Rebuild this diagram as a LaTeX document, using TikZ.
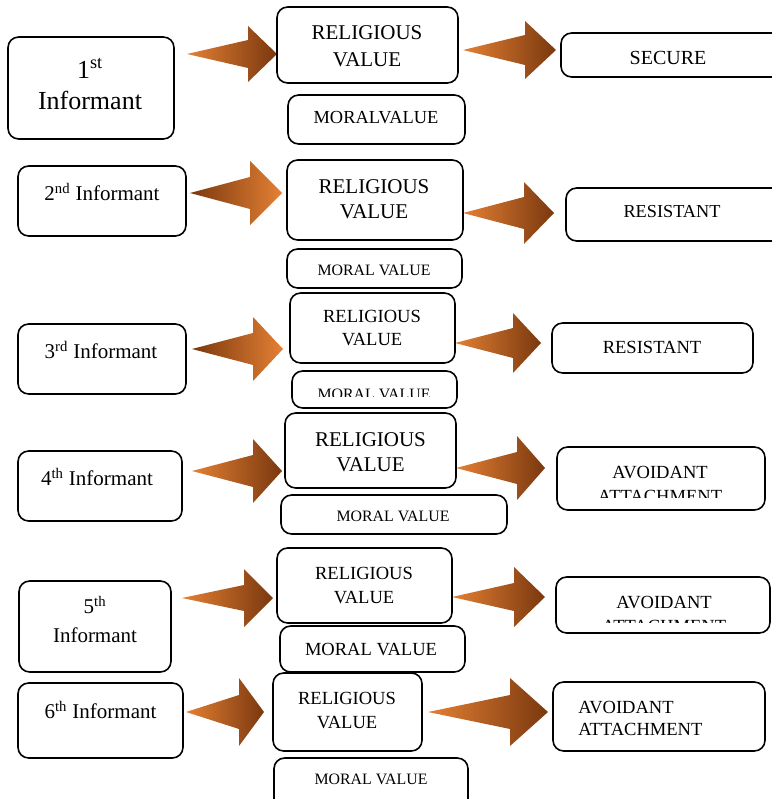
\documentclass[tikz,border=0pt]{standalone}
\usepackage{fontspec}
\setmainfont{Liberation Serif}
\definecolor{aorange}{RGB}{228,128,52}
\definecolor{abrown}{RGB}{122,56,14}
\tikzset{
  box/.style={draw=black, line width=1.2pt, rounded corners=8pt, inner sep=0pt, fill=white},
  txt/.style={inner sep=0pt, align=center, text=black},
}
\newcommand\rbox[5]{\node[box, minimum width={(#4-#2)*0.75pt}, minimum height={(#5-#3)*0.75pt}] (#1) at ({(#2+#4)/2},{(#3+#5)/2}) {};}
\newcommand\barrow[8]{\shade[left color=#7, right color=#8] (#1,#2) -- (#3,{#2-#5}) -- (#3,{#2-#6}) -- (#4,#2) -- (#3,{#2+#6}) -- (#3,{#2+#5}) -- cycle;}
\newcommand\fs[2]{\fontsize{#1pt}{#2pt}\selectfont}
\begin{document}
\begin{tikzpicture}[x=0.75pt, y=-0.75pt]
\useasboundingbox (0,0) rectangle (771,799);
% arrows
\barrow{187}{54}{248}{277}{14}{28}{aorange}{abrown}
\barrow{463}{50}{525}{556}{15}{29}{aorange}{abrown}
\barrow{190}{193}{250}{282}{16}{32}{abrown}{aorange}
\barrow{463}{213}{524}{554}{16}{31}{aorange}{abrown}
\barrow{192}{349}{253}{283}{16}{32}{abrown}{aorange}
\barrow{455}{343}{513}{541}{15}{30}{aorange}{abrown}
\barrow{192}{471}{253}{282}{16}{32}{aorange}{abrown}
\barrow{456}{468}{517}{545}{16}{32}{aorange}{abrown}
\barrow{182}{598}{244}{273}{13}{29}{aorange}{abrown}
\barrow{452}{597}{514}{545}{14}{30}{aorange}{abrown}
\barrow{186}{712}{239}{264}{17}{34}{aorange}{abrown}
\barrow{428}{712}{510}{548}{17}{34}{aorange}{abrown}
% boxes
\rbox{b1i}{8}{37}{174}{139}
\rbox{b1r}{277}{7}{458}{83}
\rbox{b1m}{288}{95}{465}{144}
\rbox{b1s}{561}{33}{790}{77}
\rbox{b2i}{18}{166}{186}{236}
\rbox{b2r}{287}{160}{463}{240}
\rbox{b2m}{287}{249}{462}{288}
\rbox{b2s}{566}{188}{790}{241}
\rbox{b3i}{18}{324}{186}{394}
\rbox{b3r}{290}{293}{455}{363}
\rbox{b3m}{292}{371}{457}{408}
\rbox{b3s}{552}{323}{753}{373}
\rbox{b4i}{18}{451}{182}{521}
\rbox{b4r}{285}{413}{456}{488}
\rbox{b4m}{281}{495}{507}{534}
\rbox{b4s}{557}{447}{765}{510}
\rbox{b5i}{19}{581}{171}{672}
\rbox{b5r}{277}{548}{452}{623}
\rbox{b5m}{280}{626}{465}{672}
\rbox{b5s}{556}{577}{770}{633}
\rbox{b6i}{18}{683}{183}{758}
\rbox{b6r}{273}{673}{422}{751}
\rbox{b6m}{274}{758}{468}{815}
\rbox{b6s}{553}{682}{765}{751}
% row 1
\node[txt, font=\fs{19.5}{24}] (t1a) at (90,68) {1\textsuperscript{st}};
\node[txt, font=\fs{19.5}{24}] (t1b) at (90,100) {Informant};
\node[txt, font=\fs{15.75}{20}] (t1r) at (367,46) {RELIGIOUS\\VALUE};
\node[txt, font=\fs{13.8}{16}] (t1m) at (376,118) {MORALVALUE};
\node[txt, font=\fs{15}{18}] (t1s) at (668,58) {SECURE};
% row 2
\node[txt, font=\fs{15.75}{19}] (t2i) at (102,192) {2\textsuperscript{nd} Informant};
\node[txt, font=\fs{15.75}{18.75}] (t2r) at (374,199.5) {RELIGIOUS\\VALUE};
\node[txt, font=\fs{11.9}{14}] (t2m) at (374,270) {MORAL VALUE};
\node[txt, font=\fs{13.7}{16}] (t2s) at (672,212) {RESISTANT};
% row 3
\node[txt, font=\fs{15.75}{19}] (t3i) at (101,350) {3\textsuperscript{rd} Informant};
\node[txt, font=\fs{13.9}{17.25}] (t3r) at (372,328.5) {RELIGIOUS\\VALUE};
\begin{scope}
  \clip (292,371) rectangle (457,396);
  \node[txt, font=\fs{11.9}{14}] (t3m) at (374,394) {MORAL VALUE};
\end{scope}
\node[txt, font=\fs{13.9}{16}] (t3s) at (652,347) {RESISTANT};
% row 4
\node[txt, font=\fs{15.75}{19}] (t4i) at (97,477) {4\textsuperscript{th} Informant};
\node[txt, font=\fs{15.75}{18.75}] (t4r) at (370.5,452.5) {RELIGIOUS\\VALUE};
\node[txt, font=\fs{11.9}{14}] (t4m) at (393,516) {MORAL VALUE};
\begin{scope}
  \clip (557,447) rectangle (765,497);
  \node[txt, font=\fs{13.9}{18}] (t4s) at (660,484) {AVOIDANT\\ATTACHMENT};
\end{scope}
% row 5
\node[txt, font=\fs{15.75}{19}] (t5a) at (95,605) {5\textsuperscript{th}};
\node[txt, font=\fs{15.75}{19}] (t5b) at (95,635) {Informant};
\node[txt, font=\fs{13.9}{18}] (t5r) at (364,585) {RELIGIOUS\\VALUE};
\node[txt, font=\fs{13.9}{16}] (t5m) at (371,649) {MORAL VALUE};
\begin{scope}
  \clip (556,577) rectangle (770,622);
  \node[txt, font=\fs{13.9}{18}] (t5s) at (664,614) {AVOIDANT\\ATTACHMENT};
\end{scope}
% row 6
\node[txt, font=\fs{15.75}{19}] (t6i) at (100.5,710) {6\textsuperscript{th} Informant};
\node[txt, font=\fs{13.9}{18}] (t6r) at (347,710) {RELIGIOUS\\VALUE};
\node[txt, font=\fs{11.9}{14}] (t6m) at (371,779) {MORAL VALUE};
\node[txt, align=left, anchor=west, font=\fs{13.9}{16.5}] (t6s) at (578,718) {AVOIDANT\\ATTACHMENT};
\end{tikzpicture}
\end{document}
